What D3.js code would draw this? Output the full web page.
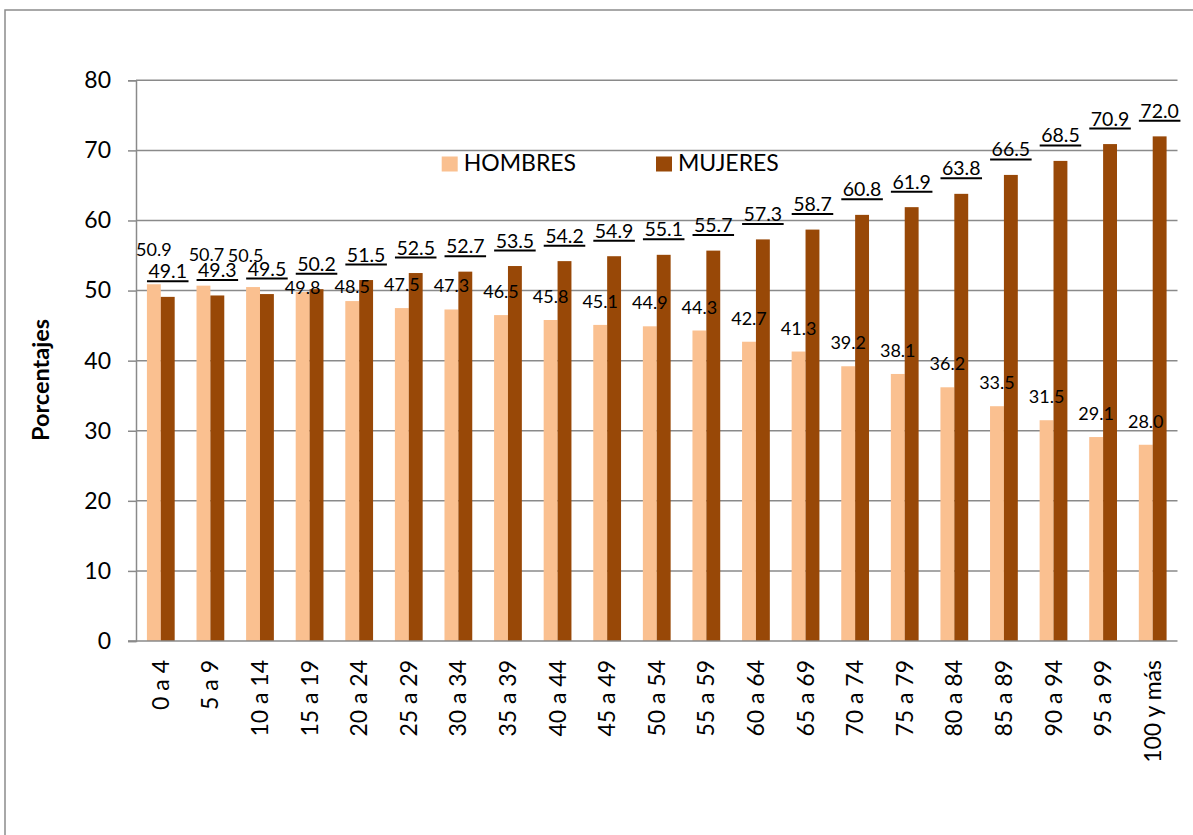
<!DOCTYPE html>
<html>
<head>
<meta charset="utf-8">
<script src="https://cdn.jsdelivr.net/npm/d3@7"></script>
<style>
  html, body { margin: 0; padding: 0; background: #fff; }
  svg { display: block; font-family: Lato, "Open Sans", sans-serif; }
</style>
</head>
<body>
<svg id="chart" width="1193" height="835"></svg>
<script>
const categories = ["0 a 4","5 a 9","10 a 14","15 a 19","20 a 24","25 a 29","30 a 34","35 a 39","40 a 44","45 a 49","50 a 54","55 a 59","60 a 64","65 a 69","70 a 74","75 a 79","80 a 84","85 a 89","90 a 94","95 a 99","100 y más"];
const hombres = [50.9,50.7,50.5,49.8,48.5,47.5,47.3,46.5,45.8,45.1,44.9,44.3,42.7,41.3,39.2,38.1,36.2,33.5,31.5,29.1,28.0];
const mujeres = [49.1,49.3,49.5,50.2,51.5,52.5,52.7,53.5,54.2,54.9,55.1,55.7,57.3,58.7,60.8,61.9,63.8,66.5,68.5,70.9,72.0];
const yTicks = [0,10,20,30,40,50,60,70,80];
const seriesNames = ["HOMBRES","MUJERES"];
const yTitle = "Porcentajes";

const colors = ["#FAC090", "#984807"];
const svg = d3.select("#chart");

// outer chart border
svg.append("rect").attr("x", 5).attr("y", 10).attr("width", 1250).attr("height", 900)
  .attr("fill", "none").attr("stroke", "#8c8c8c").attr("stroke-width", 1.5);

const pLeft = 136, pRight = 1177.5, pTop = 80.3, pBottom = 641;
const x = d3.scaleBand().domain(categories).range([pLeft, pRight]).paddingInner(0).paddingOuter(0);
const y = d3.scaleLinear().domain([0, 80]).range([pBottom, pTop]);
const bw = x.bandwidth();
const barW = bw * 0.28;
const x1 = d3.scaleBand().domain(seriesNames).range([bw/2 - barW, bw/2 + barW]);

// gridlines
svg.append("g").selectAll("line").data(yTicks.filter(d => d > 0)).join("line")
  .attr("x1", pLeft).attr("x2", pRight)
  .attr("y1", d => y(d)).attr("y2", d => y(d))
  .attr("stroke", "#8a8a8a").attr("stroke-width", 1.5);

// y axis
const yAxis = d3.axisLeft(y).tickValues(yTicks).tickSize(8).tickPadding(17).tickFormat(d3.format("d"));
const gy = svg.append("g").attr("transform", `translate(${pLeft},0)`).call(yAxis);
gy.select(".domain").attr("stroke", "#8a8a8a").attr("stroke-width", 1.5);
gy.selectAll(".tick line").attr("stroke", "#8a8a8a").attr("stroke-width", 1.5);
gy.selectAll(".tick text").attr("font-size", 23).attr("fill", "#000").attr("font-family", "Lato");

// bars
const series = [hombres, mujeres];
series.forEach((vals, si) => {
  svg.append("g").selectAll("rect").data(vals).join("rect")
    .attr("x", (d, i) => x(categories[i]) + x1(seriesNames[si]))
    .attr("y", d => y(d))
    .attr("width", x1.bandwidth())
    .attr("height", d => y(0) - y(d))
    .attr("fill", colors[si]);
});

// x axis
const xAxis = d3.axisBottom(x).tickSize(0).tickPadding(0);
const gx = svg.append("g").attr("transform", `translate(0,${pBottom})`).call(xAxis);
gx.select(".domain").remove();
svg.append("line").attr("x1", pLeft - 8).attr("x2", pRight).attr("y1", pBottom).attr("y2", pBottom)
  .attr("stroke", "#8a8a8a").attr("stroke-width", 1.5);
gx.selectAll(".tick text")
  .attr("font-size", 23).attr("fill", "#000").attr("font-family", "Lato")
  .attr("transform", "rotate(-90)")
  .attr("text-anchor", "end")
  .attr("x", -19).attr("y", 0).attr("dy", "0.35em");

// HOMBRES labels (plain); a few were moved by hand in the original
const hNudgeY = {0: -11, 1: -8, 2: -8, 3: 19, 4: 9};
const hNudgeX = {1: 3, 2: -7.5};
svg.append("g").selectAll("text").data(hombres).join("text")
  .attr("x", (d, i) => x(categories[i]) + x1("HOMBRES") + x1.bandwidth()/2 + (hNudgeX[i] || 0))
  .attr("y", (d, i) => y(d) - 17 + (hNudgeY[i] || 0))
  .attr("text-anchor", "middle")
  .attr("font-size", 18).attr("fill", "#000")
  .text(d => d.toFixed(1));

// MUJERES labels (underlined)
const mg = svg.append("g");
mujeres.forEach((d, i) => {
  const cx = x(categories[i]) + x1("MUJERES") + x1.bandwidth()/2;
  const uy = y(d) - 15.5;
  const t = mg.append("text")
    .attr("x", cx).attr("y", uy - 3)
    .attr("text-anchor", "middle")
    .attr("font-size", 19.5).attr("fill", "#000")
    .text(d.toFixed(1));
  const w = t.node().getComputedTextLength();
  mg.append("line").attr("x1", cx - w/2 - 1.5).attr("x2", cx + w/2 + 1.5)
    .attr("y1", uy).attr("y2", uy).attr("stroke", "#000").attr("stroke-width", 2);
});

// legend
const legX = [441.7, 656];
seriesNames.forEach((name, i) => {
  svg.append("rect").attr("x", legX[i]).attr("y", 156.5).attr("width", 16).attr("height", 15).attr("fill", colors[i]);
  svg.append("text").attr("x", legX[i] + 22).attr("y", 171).attr("font-size", 23).attr("fill", "#000").text(name);
});

// y title
svg.append("text")
  .attr("transform", "translate(49,380) rotate(-90)")
  .attr("text-anchor", "middle")
  .attr("font-size", 23.5).attr("font-weight", "bold").attr("fill", "#000")
  .text(yTitle);
</script>
</body>
</html>
